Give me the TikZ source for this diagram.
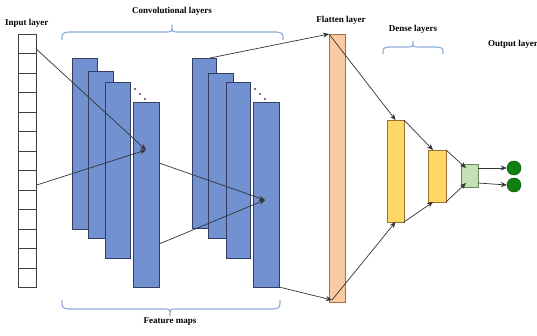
\documentclass[tikz,border=0pt]{standalone}
\usepackage{fontspec}
\setmainfont{Liberation Serif}
\usetikzlibrary{arrows.meta,calc}
\definecolor{fmapfill}{RGB}{114,145,208}
\definecolor{fmapdraw}{RGB}{50,62,100}
\definecolor{flatfill}{RGB}{250,203,160}
\definecolor{flatdraw}{RGB}{160,112,80}
\definecolor{densefill}{RGB}{255,215,100}
\definecolor{densedraw}{RGB}{150,115,50}
\definecolor{gfill}{RGB}{197,224,180}
\definecolor{gdraw}{RGB}{100,140,90}
\definecolor{ofill}{RGB}{16,128,16}
\definecolor{odraw}{RGB}{10,80,10}
\definecolor{bracecol}{RGB}{140,170,220}
\tikzset{
  box/.style={inner sep=0pt, outer sep=0pt, anchor=north west},
  cell/.style={box, draw=black!75, fill=white, line width=0.5pt, minimum width=18pt, minimum height=19.5pt},
  fmap/.style={box, draw=fmapdraw, fill=fmapfill, line width=0.6pt},
  flat/.style={box, draw=flatdraw, fill=flatfill, line width=0.6pt},
  dense/.style={box, draw=densedraw, fill=densefill, line width=0.6pt},
  gbox/.style={box, draw=gdraw, fill=gfill, line width=0.6pt},
  outn/.style={circle, inner sep=0pt, minimum size=14pt, draw=odraw, fill=ofill, line width=0.5pt},
  conn/.style={draw=black!80, line width=0.7pt, -{Stealth[length=6pt,width=5pt]}},
  lbl/.style={font=\bfseries\fontsize{9}{11}\selectfont, inner sep=0pt},
  bracel/.style={draw=bracecol, line width=1.1pt},
  dotn/.style={circle, fill=black!70, inner sep=0pt, minimum size=2.2pt}
}
\begin{document}
\begin{tikzpicture}[x=1pt,y=-1pt]
\useasboundingbox (0,0) rectangle (537,336);
% labels
\node[lbl, anchor=west] (linput) at (5,23) {Input layer};
\node[lbl] (lconv) at (172,11) {Convolutional layers};
\node[lbl] (lflat) at (341,20) {Flatten layer};
\node[lbl] (ldense) at (413,29) {Dense layers};
\node[lbl, anchor=west] (lout) at (488,44) {Output layer};
\node[lbl] (lfeat) at (170,322) {Feature maps};
% braces
\draw[bracel] (62,40) .. controls (62,33) .. (69,32) -- (165,32) .. controls (172,32) .. (172,25) .. controls (172,32) .. (179,32) -- (276,32) .. controls (283,33) .. (283,40);
\draw[bracel] (62,300) .. controls (62,308) .. (69,309) -- (164,309) .. controls (170,309) .. (170,316) .. controls (170,309) .. (176,309) -- (273,309) .. controls (280,308) .. (280,300);
\draw[bracel] (383,54) .. controls (383,48) .. (389,47) -- (407,47) .. controls (413,47) .. (413,41) .. controls (413,47) .. (419,47) -- (437,47) .. controls (443,48) .. (443,54);
% input cells
\foreach \i in {0,...,12} {
  \node[cell] (in\i) at (18,34+19.5*\i) {};
}
% conv block 1
\node[fmap, minimum width=25pt, minimum height=171pt] (a1) at (72,58) {};
\node[fmap, minimum width=25pt, minimum height=167pt] (a2) at (88,71) {};
\node[fmap, minimum width=25pt, minimum height=176pt] (a3) at (105,82) {};
\node[fmap, minimum width=26pt, minimum height=185pt] (a4) at (133,102) {};
% conv block 2
\node[fmap, minimum width=24pt, minimum height=170pt] (b1) at (192,58) {};
\node[fmap, minimum width=25pt, minimum height=165pt] (b2) at (208,73) {};
\node[fmap, minimum width=24pt, minimum height=176pt] (b3) at (226,82) {};
\node[fmap, minimum width=26pt, minimum height=185pt] (b4) at (253,102) {};
% dots
\node[dotn] (da1) at (135,89) {};
\node[dotn] (da2) at (140,94) {};
\node[dotn] (da3) at (145,99) {};
\node[dotn] (db1) at (255,89) {};
\node[dotn] (db2) at (260,94) {};
\node[dotn] (db3) at (265,99) {};
% flatten, dense, output
\node[flat, minimum width=16pt, minimum height=268pt] (fl) at (329,34) {};
\node[dense, minimum width=17pt, minimum height=102pt] (d1) at (387,120) {};
\node[dense, minimum width=18pt, minimum height=52pt] (d2) at (428,150) {};
\node[gbox, minimum width=17pt, minimum height=23pt] (g) at (461,164) {};
\node[outn] (o1) at (514,168) {};
\node[outn] (o2) at (514,185) {};
% connectors
\coordinate (t1) at (146,150);
\coordinate (t2) at (265,200);
\coordinate (flb) at ($(fl.south west)+(3,-2)$);
\draw[conn] ($(in0.east)+(0,5)$) -- (t1);
\draw[conn] ($(in7.east)+(0,5)$) -- (t1);
\draw[conn] ($(a4.north east)+(0,61)$) -- (t2);
\draw[conn] ($(a4.north east)+(0,142)$) -- (t2);
\draw[conn] ($(b1.north east)+(-6,0)$) -- (fl.north west);
\draw[conn] (b4.south east) -- (flb);
\draw[conn] (fl.north west) -- (d1.north);
\draw[conn] (flb) -- (d1.south);
\draw[conn] (d1.north east) -- ($(d2.north)+(-4,0)$);
\draw[conn] (d1.south east) -- ($(d2.south)+(-4,0)$);
\draw[conn] (d2.north east) -- ($(g.north west)+(5,4)$);
\draw[conn] (d2.south east) -- ($(g.south west)+(5,-4)$);
\draw[conn] ($(g.north east)+(0,4)$) -- (o1.west);
\draw[conn] ($(g.south east)+(0,-4)$) -- (o2.west);
\end{tikzpicture}
\end{document}
